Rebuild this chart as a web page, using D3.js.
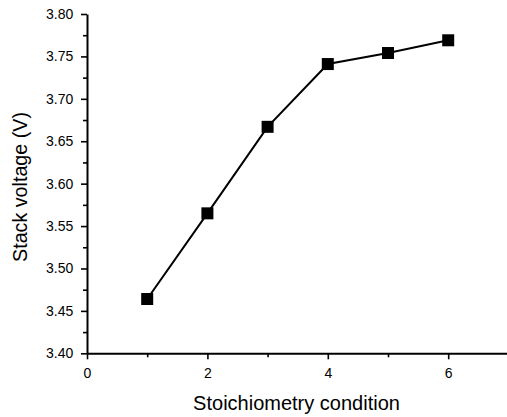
<!DOCTYPE html>
<html>
<head>
<meta charset="utf-8">
<script src="https://cdn.jsdelivr.net/npm/d3@7"></script>
<style>
  html, body { margin: 0; padding: 0; background: #fff; }
  svg { display: block; font-family: "Liberation Sans", Arial, sans-serif; }
</style>
</head>
<body>
<div id="chart"></div>
<script>
// Data
var conditions = [1, 2, 3, 4, 5, 6];
var voltages = [3.464, 3.565, 3.667, 3.741, 3.754, 3.769];

var xMajorTicks = [0, 2, 4, 6];
var xMinorTicks = [1, 3, 5, 7];
var yMajorTicks = [3.40, 3.45, 3.50, 3.55, 3.60, 3.65, 3.70, 3.75, 3.80];
var yMinorTicks = [3.425, 3.475, 3.525, 3.575, 3.625, 3.675, 3.725, 3.775];

var xTitle = 'Stoichiometry condition';
var yTitle = 'Stack voltage (V)';

(function() {
  var width = 507, height = 417;

  var svg = d3.select('#chart').append('svg')
    .attr('width', width)
    .attr('height', height);

  // Scales
  var x = d3.scaleLinear().domain([0, 7]).range([87, 508.4]);
  var y = d3.scaleLinear().domain([3.40, 3.80]).range([353.3, 14]);

  // Minor ticks first (no labels)
  svg.append('g')
    .attr('transform', 'translate(' + x(0) + ',0)')
    .call(d3.axisLeft(y).tickValues(yMinorTicks).tickSize(4).tickSizeOuter(0).tickFormat(''))
    .call(function(g) { g.select('.domain').remove(); });

  svg.append('g')
    .attr('transform', 'translate(0,' + y(3.40) + ')')
    .call(d3.axisBottom(x).tickValues(xMinorTicks).tickSize(4).tickSizeOuter(0).tickFormat(''))
    .call(function(g) { g.select('.domain').remove(); });

  // Major axes
  var yAxis = svg.append('g')
    .attr('transform', 'translate(' + x(0) + ',0)')
    .call(d3.axisLeft(y).tickValues(yMajorTicks).tickSize(6).tickSizeOuter(0)
      .tickPadding(7.7).tickFormat(d3.format('.2f')));

  var xAxis = svg.append('g')
    .attr('transform', 'translate(0,' + y(3.40) + ')')
    .call(d3.axisBottom(x).tickValues(xMajorTicks).tickSize(6).tickSizeOuter(0)
      .tickPadding(8.8).tickFormat(d3.format('d')));

  svg.selectAll('.domain').attr('stroke', '#000').attr('stroke-width', 2);
  svg.selectAll('.tick line').attr('stroke', '#000').attr('stroke-width', 1.6);
  svg.selectAll('.tick text')
    .attr('fill', '#000')
    .style('font-size', '14px')
    .style('font-family', '"Liberation Sans", Arial, sans-serif');

  // Series line
  var line = d3.line()
    .x(function(d, i) { return x(conditions[i]); })
    .y(function(d) { return y(d); });

  svg.append('path')
    .datum(voltages)
    .attr('d', line)
    .attr('fill', 'none')
    .attr('stroke', '#000')
    .attr('stroke-width', 2);

  // Square markers
  var size = 12;
  svg.selectAll('rect.marker')
    .data(voltages)
    .enter().append('rect')
    .attr('class', 'marker')
    .attr('x', function(d, i) { return x(conditions[i]) - size / 2; })
    .attr('y', function(d) { return y(d) - size / 2; })
    .attr('width', size)
    .attr('height', size)
    .attr('fill', '#000');

  // Axis titles
  svg.append('text')
    .attr('x', 296.5)
    .attr('y', 410)
    .attr('text-anchor', 'middle')
    .style('font-size', '20px')
    .attr('fill', '#000')
    .text(xTitle);

  svg.append('text')
    .attr('transform', 'translate(27,187) rotate(-90)')
    .attr('text-anchor', 'middle')
    .style('font-size', '19.7px')
    .attr('fill', '#000')
    .text(yTitle);
})();
</script>
</body>
</html>
